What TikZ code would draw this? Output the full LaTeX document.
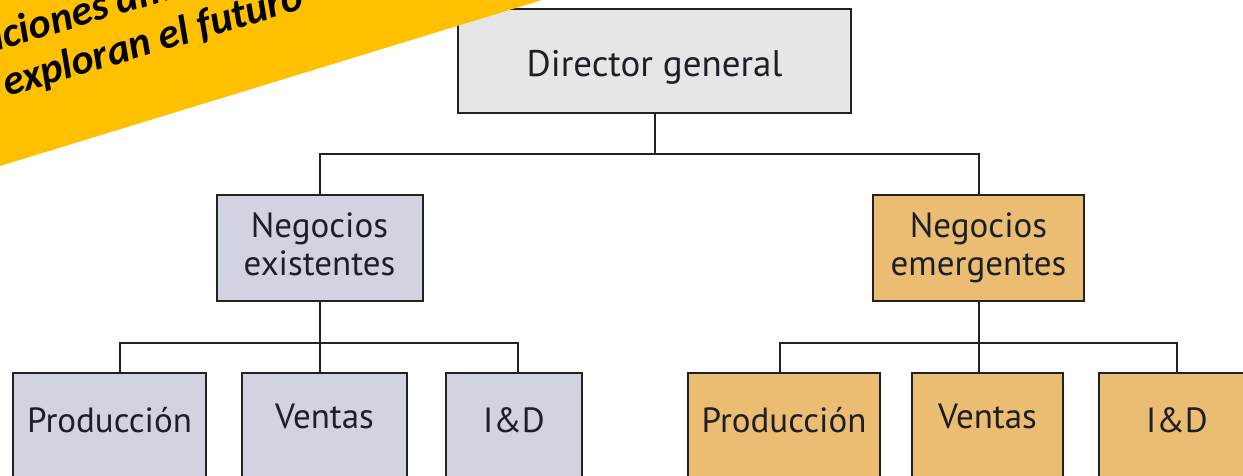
\documentclass[tikz,border=0pt]{standalone}
\usepackage{fontspec}
\newfontfamily\boxfont{PT Sans}
\newfontfamily\bannerfont{Carlito}
\definecolor{dirgray}{HTML}{E6E6E6}
\definecolor{oldbiz}{HTML}{D2D3E0}
\definecolor{newbiz}{HTML}{EBBD73}
\definecolor{linecol}{HTML}{222222}
\definecolor{textcol}{HTML}{1E1E28}
\definecolor{banner}{HTML}{FFC000}
\begin{document}
\begin{tikzpicture}[x=1pt,y=-1pt,
  orgbox/.style={draw=linecol, line width=2pt, inner sep=0pt, text=textcol,
    font=\boxfont\fontsize{35}{38}\selectfont},
  unitbox/.style={orgbox, anchor=north, text height=59pt, text depth=49pt},
  salesbox/.style={orgbox, anchor=north, text height=55pt, text depth=53pt},
  link/.style={draw=linecol, line width=2pt},
  bannertext/.style={text=black, inner sep=0pt, rotate=16.5, align=left,
    font=\bannerfont\bfseries\itshape\fontsize{42}{47}\selectfont}]
\useasboundingbox (0,0) rectangle (1243,476);
\clip (0,0) rectangle (1243,476);

% top of the chart
\node[orgbox, fill=dirgray, anchor=north, minimum width=393pt, text height=68pt,
  text depth=36pt, font=\boxfont\fontsize{37}{44}\selectfont] (dir) at (654.5,8) {Director general};

% business units
\node[orgbox, fill=oldbiz, align=center, minimum width=206pt, minimum height=106pt]
  (neA) at (319.5,248) {Negocios\\existentes\vphantom{g}};
\node[orgbox, fill=newbiz, align=center, minimum width=211pt, minimum height=106pt]
  (neB) at (978.5,248) {Negocios\\emergentes};

% functions of the existing business
\node[unitbox, fill=oldbiz, minimum width=193pt] (pA) at (109.5,372) {Producción};
\node[salesbox, fill=oldbiz, minimum width=165pt] (vA) at (324.5,372) {Ventas};
\node[unitbox, fill=oldbiz, minimum width=136pt] (iA) at (514,372) {I\&D};

% functions of the emerging business
\node[unitbox, fill=newbiz, minimum width=192pt] (pB) at (784,372) {Producción};
\node[salesbox, fill=newbiz, minimum width=151pt] (vB) at (987.5,372) {Ventas};
\node[unitbox, fill=newbiz, minimum width=156pt] (iB) at (1177,372) {I\&D};

% connectors
\coordinate (topbus) at (654,154);
\coordinate (busL) at (319,343);
\coordinate (busR) at (979,343);
\draw[link] (dir.south) -- (dir.south |- topbus);
\draw[link] (neA.north) |- (topbus) -| (neB.north);
\draw[link] (neA.south) -- (neA.south |- vA.north);
\draw[link] ([xshift=10.5pt]pA.north) |- (busL) -| ([xshift=4pt]iA.north);
\draw[link] (neB.south) -- (neB.south |- vB.north);
\draw[link] ([xshift=-4pt]pB.north) |- (busR) -| (iB.north);

% corner banner
\fill[banner] (0,0) -- (542,0) -- (0,166) -- cycle;
\node[bannertext, anchor=base west] (banner) at (7,97)
  {\hspace*{13pt}\llap{Organiza}ciones ambidiestras\\exploran el futuro};
\end{tikzpicture}
\end{document}
